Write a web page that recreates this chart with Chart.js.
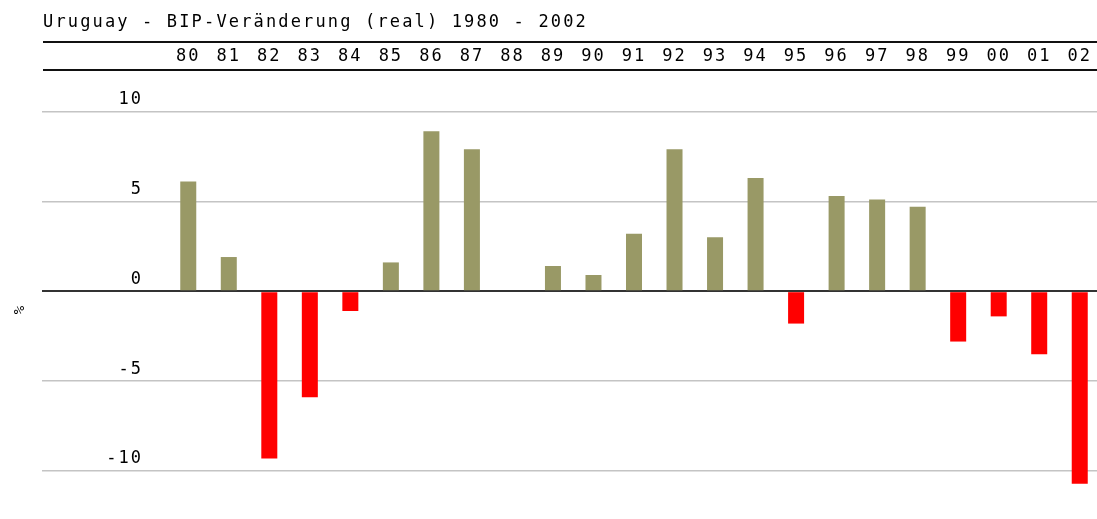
<!DOCTYPE html>
<html>
<head>
<meta charset="utf-8">
<script src="https://cdn.jsdelivr.net/npm/chart.js@4"></script>
<style>
  html, body { margin: 0; padding: 0; background: #fff; overflow: hidden; }
  canvas { display: block; }
</style>
</head>
<body>
<canvas id="graphique" width="1100" height="519"></canvas>
<script>
// Uruguay, reale BIP-Veränderung in %
const titel = "Uruguay - BIP-Veränderung (real) 1980 - 2002";
const jahre = ["80", "81", "82", "83", "84", "85", "86", "87", "88", "89", "90", "91",
               "92", "93", "94", "95", "96", "97", "98", "99", "00", "01", "02"];
const werte = [6.1, 1.9, -9.3, -5.9, -1.1, 1.6, 8.9, 7.9, 0, 1.4, 0.9, 3.2,
               7.9, 3.0, 6.3, -1.8, 5.3, 5.1, 4.7, -2.8, -1.4, -3.5, -10.7];
const yTicks = [-10, -5, 0, 5, 10];
const einheit = "%";

const schrift = "'DejaVu Sans Mono', monospace";

// Titel, Kopflinien und Achsenbeschriftung "%"
const kopfPlugin = {
    id: "kopf",
    beforeUpdate(chart) {
        chart.ctx.letterSpacing = "2px";
    },
    afterDraw(chart) {
        const ctx = chart.ctx;
        const x = chart.scales.x;
        ctx.save();
        ctx.letterSpacing = "2.15px";
        ctx.fillStyle = "#000";
        ctx.font = "17px " + schrift;
        ctx.textBaseline = "alphabetic";
        ctx.textAlign = "left";
        ctx.fillText(titel, 43, 27);

        ctx.strokeStyle = "#111";
        ctx.lineWidth = 2;
        ctx.beginPath();
        ctx.moveTo(43, x.top);
        ctx.lineTo(chart.width, x.top);
        ctx.moveTo(43, x.bottom);
        ctx.lineTo(chart.width, x.bottom);
        ctx.stroke();

        ctx.translate(20, 310);
        ctx.rotate(-Math.PI / 2);
        ctx.textAlign = "center";
        ctx.textBaseline = "middle";
        ctx.letterSpacing = "0px";
        ctx.font = "14px " + schrift;
        ctx.fillText(einheit, 0, 0);
        ctx.restore();
    }
};

const ctx = document.getElementById("graphique").getContext("2d");
new Chart(ctx, {
    type: "bar",
    data: {
        labels: jahre,
        datasets: [{
            data: werte,
            backgroundColor: werte.map(v => v < 0 ? "#ff0000" : "#999966"),
            borderWidth: 0,
            barPercentage: 0.395,
            categoryPercentage: 1
        }]
    },
    options: {
        responsive: false,
        animation: false,
        layout: { padding: { top: 42, left: 8, right: 0, bottom: 3 } },
        plugins: {
            legend: { display: false },
            title: { display: false },
            tooltip: { enabled: false }
        },
        scales: {
            x: {
                position: "top",
                grid: { display: false },
                border: { display: false },
                ticks: {
                    color: "#000",
                    font: { family: schrift, size: 17 },
                    padding: -5,
                    autoSkip: false,
                    maxRotation: 0
                },
                afterFit: s => { s.height = 28; }
            },
            y: {
                min: -12.5,
                max: 12.3,
                border: { display: false },
                grid: {
                    color: c => c.tick && c.tick.value === 0 ? "#333" : "#c4c4c4",
                    lineWidth: c => c.tick && c.tick.value === 0 ? 2 : 1.5,
                    drawTicks: true,
                    tickLength: 126
                },
                ticks: {
                    stepSize: 5,
                    color: "#000",
                    font: { family: schrift, size: 17 },
                    padding: -101,
                    labelOffset: -12
                },
                afterBuildTicks: s => {
                    s.ticks = s.ticks.filter(t => yTicks.includes(t.value));
                },
                afterFit: s => { s.width = 160; }
            }
        }
    },
    plugins: [kopfPlugin]
});
</script>
</body>
</html>
